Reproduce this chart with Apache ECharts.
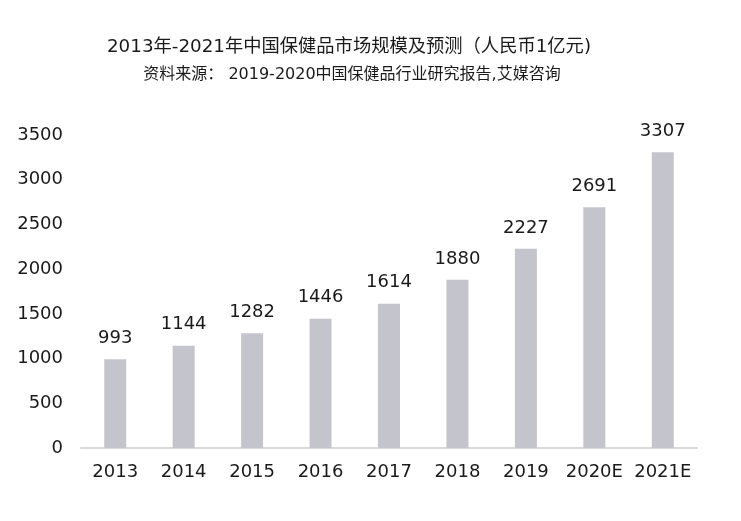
<!DOCTYPE html>
<html><head><meta charset="utf-8">
<script src="https://cdn.jsdelivr.net/npm/echarts@6/dist/echarts.min.js"></script>
<style>html,body{margin:0;padding:0;background:#fff}#c{width:741px;height:521px}</style>
</head><body><div id="c"></div>
<script>
var categories = ['2013','2014','2015','2016','2017','2018','2019','2020E','2021E'];
var values = [993,1144,1282,1446,1614,1880,2227,2691,3307];
var titleText = '2013年-2021年中国保健品市场规模及预测（人民币1亿元)';
var subtitleText = '资料来源： 2019-2020中国保健品行业研究报告,艾媒咨询';
var FONT = '"DejaVu Sans", "Noto Sans CJK SC", sans-serif';
var chart = echarts.init(document.getElementById('c'));
chart.setOption({
  animation: false,
  title: [
    {text: titleText, left: 344, top: 33, textAlign: 'center',
     textStyle: {fontFamily: FONT, fontSize: 18.3, fontWeight: 'normal', color: '#1a1a1a'}},
    {text: subtitleText, left: 347, top: 62, textAlign: 'center',
     textStyle: {fontFamily: FONT, fontSize: 16, fontWeight: 'normal', color: '#1a1a1a'}}
  ],
  grid: {left: 81, right: 44, top: 135, bottom: 73},
  xAxis: {
    type: 'category', data: categories,
    axisLine: {lineStyle: {color: '#d9d9d9', width: 2}},
    axisTick: {show: false},
    axisLabel: {interval: 0, fontFamily: FONT, fontSize: 18, color: '#1a1a1a', margin: 15}
  },
  yAxis: {
    type: 'value', min: 0, max: 3500, interval: 500,
    axisLine: {show: false}, axisTick: {show: false},
    splitLine: {show: false},
    axisLabel: {fontFamily: FONT, fontSize: 18, color: '#1a1a1a', margin: 18,
      formatter: function (v) { return String(v); }}
  },
  series: [{
    type: 'bar', data: values, barWidth: 22,
    itemStyle: {color: '#c4c4cc'},
    label: {show: true, position: 'top', distance: 12,
      fontFamily: FONT, fontSize: 18, color: '#1a1a1a'}
  }]
});
</script></body></html>
